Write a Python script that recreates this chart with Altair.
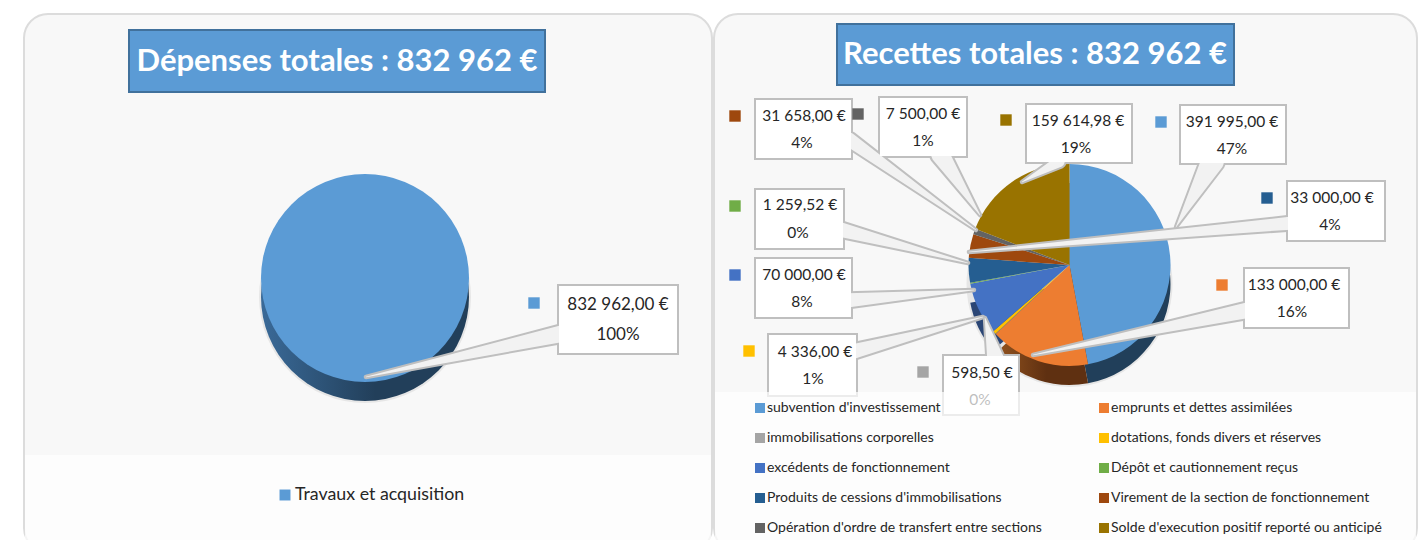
import math
import numpy as np
import pandas as pd
import altair as alt

# ---------- values ----------
LEFT_NAMES = ["Travaux et acquisition"]
LEFT_VALUES = [832962.00]
LEFT_AMOUNTS = ["832 962,00 €"]
LEFT_PCTS = ["100%"]

NAMES = ["subvention d'investissement", "emprunts et dettes assimilées", "immobilisations corporelles",
         "dotations, fonds divers et réserves", "excédents de fonctionnement", "Dépôt et cautionnement reçus",
         "Produits de cessions d'immobilisations", "Virement de la section de fonctionnement",
         "Opération d'ordre de transfert entre sections", "Solde d'execution positif reporté ou anticipé"]
VALUES = [391995.00, 133000.00, 598.50, 4336.00, 70000.00, 1259.52, 33000.00, 31658.00, 7500.00, 159614.98]
AMOUNTS = ["391 995,00 €", "133 000,00 €", "598,50 €", "4 336,00 €", "70 000,00 €", "1 259,52 €",
           "33 000,00 €", "31 658,00 €", "7 500,00 €", "159 614,98 €"]
PCTS = ["47%", "16%", "0%", "1%", "8%", "0%", "4%", "4%", "1%", "19%"]
COLORS = ["#5b9bd5", "#ed7d31", "#a5a5a5", "#ffc000", "#4472c4", "#70ad47", "#255e91", "#9e480e", "#636363", "#997300"]
TITLES = ["Dépenses totales : 832 962 €", "Recettes totales : 832 962 €"]
TOTAL = 832962.0

# ---------- layout (page pixels) ----------
W, H = 1410, 532
FONT = "Lato"
LEFT_C = (365, 278, 104)
RIGHT_C = (1069.5, 265, 101)
DEPTH = 19
# callout: box x0,x1,y0,y1 ; amount xy ; pct xy ; swatch xy ; wedge A, B, tip
RIGHT_CALLOUTS = [
    ((1180, 1286, 105, 164), (1232, 122), (1232, 149), (1161, 122), (1198, 164), (1224, 164), (1176, 227)),
    ((1244, 1349, 268, 328), (1294, 285), (1292, 312), (1222, 285), (1244, 303), (1244, 319), (1033, 355)),
    ((943, 1019, 355, 415), (982, 373), (980, 400), (923, 372), (986, 355), (1003, 355), (985, 318)),
    ((768, 857, 334, 396), (815, 352), (813, 379), (749, 351), (857, 343), (857, 358), (983, 317)),
    ((755, 852, 258, 318), (804, 275), (802, 302), (735, 275), (852, 293), (852, 307), (974, 290)),
    ((755, 844, 189, 249), (800, 205), (798, 233), (735, 206), (844, 223), (844, 238), (968, 263)),
    ((1287, 1385, 181, 241), (1332, 198), (1330, 225), (1267, 198), (1287, 217), (1287, 230), (969, 252)),
    ((755, 852, 99, 159), (804, 116), (802, 143), (735, 116), (852, 133), (852, 150), (976, 230)),
    ((879, 967, 97, 157), (923, 114), (923, 141), (858, 114), (931, 157), (953, 157), (980, 215)),
    ((1026, 1132, 104, 163), (1078, 121), (1076, 148), (1006, 120), (1045, 163), (1068, 163), (1022, 182)),
]
LEFT_CALLOUTS = [
    ((558, 678, 285, 354), (618, 305), (618, 335), (534, 303), (558, 326), (558, 343), (366, 377)),
]
RIGHT_LEGEND_X = [760, 1104]
RIGHT_LEGEND_Y = [408, 438, 468, 498, 528]

X_SCALE = alt.Scale(domain=[8, 8 + W], range=[0, W])
Y_SCALE = alt.Scale(domain=[8, 8 + H], range=[0, H])
THETA_SCALE = alt.Scale(domain=[0, TOTAL], range=[0, 2 * math.pi])
COLOR_SCALE = alt.Scale(domain=NAMES + LEFT_NAMES, range=COLORS + [COLORS[0]])


def X(f="x"):
    return alt.X(f"{f}:Q", scale=X_SCALE, axis=None)


def Y(f="y"):
    return alt.Y(f"{f}:Q", scale=Y_SCALE, axis=None)


def boxes(rows, **mark):
    df = pd.DataFrame(rows, columns=["x", "x2", "y", "y2"])
    return alt.Chart(df).mark_rect(**mark).encode(X(), x2="x2:Q", y=Y(), y2="y2:Q")


def slices(names, values, centre, dy=0):
    cum = np.cumsum(values)
    return pd.DataFrame({"name": names, "start": cum - np.array(values), "end": cum,
                         "cx": centre[0], "cy": centre[1] + dy})


def arc_layer(df, radius, color=None, **mark):
    enc = dict(x=X("cx"), y=Y("cy"), theta=alt.Theta("start:Q", scale=THETA_SCALE), theta2="end:Q")
    if color:
        enc["color"] = alt.Color("name:N", scale=COLOR_SCALE, legend=None)
    return alt.Chart(df).mark_arc(radius=radius, **mark).encode(**enc)


def grad(c0, c1):
    return alt.Gradient(gradient="linear", x1=0, x2=1, y1=0, y2=0,
                        stops=[alt.GradientStop(color=c0, offset=0), alt.GradientStop(color=c1, offset=0.55),
                               alt.GradientStop(color=c1, offset=1)])


def texts(rows, size, align="center", color="#262626", **kw):
    df = pd.DataFrame(rows, columns=["x", "y", "t"])
    return alt.Chart(df).mark_text(font=FONT, fontSize=size, align=align, baseline="middle", color=color, **kw).encode(
        X(), Y(), text="t:N")


def swatches(rows, size):
    df = pd.DataFrame(rows, columns=["x", "y", "name"])
    return alt.Chart(df).mark_square(size=size, opacity=1).encode(
        X(), Y(), color=alt.Color("name:N", scale=COLOR_SCALE, legend=None))


def wedge_table(callouts):
    rows = []
    for i, c in enumerate(callouts):
        a, b, t = np.array(c[4], float), np.array(c[5], float), np.array(c[6], float)
        s = (a + b) / 2
        d = (t - s) / np.linalg.norm(t - s)
        e = b - a
        w = abs(e[0] * d[1] - e[1] * d[0])
        rows.append(dict(id=i, k=0, x=s[0] - d[0] * 3, y=s[1] - d[1] * 3, w=w))
        rows.append(dict(id=i, k=1, x=t[0], y=t[1], w=0.5))
    return pd.DataFrame(rows)


def trail(df, extra, color, opacity=1.0):
    d = df.assign(w=lambda r: r.w + extra)
    return alt.Chart(d).mark_trail(color=color, opacity=opacity).encode(
        X(), Y(), size=alt.Size("w:Q", scale=None), detail="id:N", order="k:Q")


layers = []
# panels
layers.append(boxes([(24, 712, 14, 552), (714, 1417, 14, 552)], cornerRadius=24, fill="#f8f8f8", stroke="#dcdcdc", strokeWidth=2))

# pies: depth faces, shadow, top faces
left_side = slices(LEFT_NAMES, LEFT_VALUES, LEFT_C, DEPTH)
layers.append(arc_layer(left_side, LEFT_C[2] + 2, fill="#000000", opacity=0.07))
layers.append(arc_layer(left_side, LEFT_C[2], fill=grad("#3a6a98", "#223f5a")))
right_side = slices(NAMES, VALUES, RIGHT_C, DEPTH)
layers.append(arc_layer(right_side, RIGHT_C[2] + 2, fill="#000000", opacity=0.07))
layers.append(arc_layer(right_side[right_side.name == NAMES[0]], RIGHT_C[2], fill="#213f5a"))
layers.append(arc_layer(right_side[right_side.name == NAMES[1]], RIGHT_C[2], fill=grad("#94541f", "#5f3011")))
layers.append(arc_layer(right_side[right_side.name == NAMES[4]], RIGHT_C[2], fill="#2b4675"))
layers.append(arc_layer(slices(LEFT_NAMES, LEFT_VALUES, LEFT_C), LEFT_C[2], color=True))
layers.append(arc_layer(slices(NAMES, VALUES, RIGHT_C), RIGHT_C[2], color=True))

# callouts
calls = LEFT_CALLOUTS + RIGHT_CALLOUTS
wedges = wedge_table(calls)
layers.append(trail(wedges, 4, "#bfbfbf"))
layers.append(boxes([c[0] for c in calls], fill="#ffffff", stroke="#bfbfbf", strokeWidth=2))
layers.append(trail(wedges, 0, "#ffffff", 0.8))
all_amounts = LEFT_AMOUNTS + AMOUNTS
all_pcts = LEFT_PCTS + PCTS
rows_l = [(c[1][0], c[1][1], all_amounts[i]) for i, c in enumerate(calls) if i == 0] + \
         [(c[2][0], c[2][1], all_pcts[i]) for i, c in enumerate(calls) if i == 0]
rows_r = [(c[1][0], c[1][1], all_amounts[i]) for i, c in enumerate(calls) if i > 0] + \
         [(c[2][0], c[2][1], all_pcts[i]) for i, c in enumerate(calls) if i > 0]
layers.append(texts(rows_l, 17))
layers.append(texts(rows_r, 15.5))
layers.append(swatches([(c[3][0], c[3][1], (LEFT_NAMES + NAMES)[i]) for i, c in enumerate(calls)], 130))

# legend bands
layers.append(boxes([(25, 711, 455, 552), (715, 1416, 392, 552)], cornerRadius=0, fill="#ffffff", opacity=0.7))
layers.append(swatches([(285, 495, LEFT_NAMES[0])], 120))
layers.append(texts([(295, 495, LEFT_NAMES[0])], 17.8, align="left"))
leg_sw, leg_tx = [], []
for i, n in enumerate(NAMES):
    lx, ly = RIGHT_LEGEND_X[i % 2], RIGHT_LEGEND_Y[i // 2]
    leg_sw.append((lx, ly, n))
    leg_tx.append((lx + 7, ly, n))
layers.append(swatches(leg_sw, 100))
layers.append(texts(leg_tx, 14, align="left"))

# title boxes
layers.append(boxes([(129, 545, 30, 92), (837, 1234, 24, 85)], fill="#5b9bd5", stroke="#41719c", strokeWidth=2))
layers.append(texts([(337, 62, TITLES[0]), (1035, 55, TITLES[1])], 31, color="#ffffff", fontWeight="bold"))

chart = alt.layer(*layers).properties(width=W, height=H, padding=0, autosize="none",
                                      background="#ffffff").configure_view(stroke=None)
chart.save("out.html", embed_options={"renderer": "svg", "actions": False})
